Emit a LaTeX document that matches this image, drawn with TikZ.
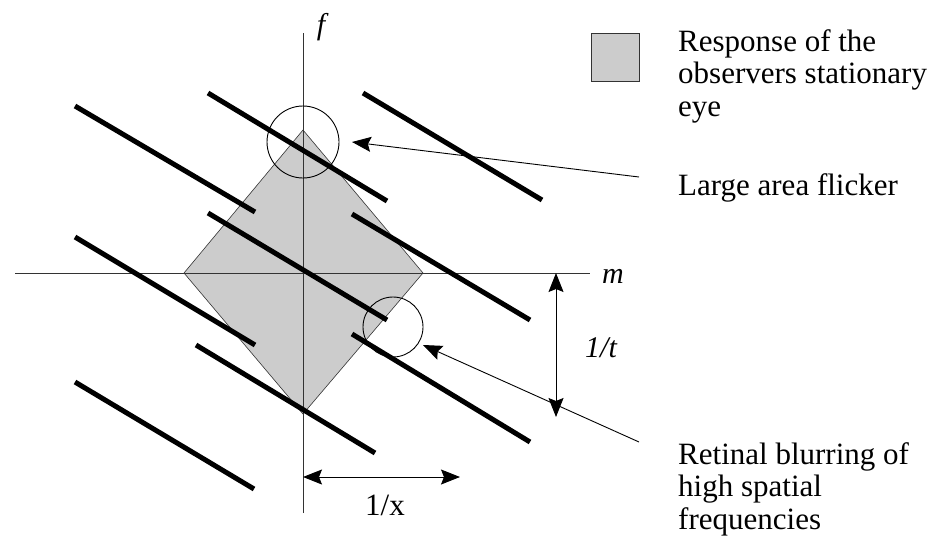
\documentclass[tikz,border=0pt]{standalone}
\usepackage{fontspec}
\setmainfont{Liberation Serif}
\usetikzlibrary{arrows.meta}
\definecolor{resp}{HTML}{CCCCCC}
\definecolor{axisgray}{HTML}{333333}
\begin{document}
\begin{tikzpicture}[x=1pt,y=-1pt,
  thickline/.style={line width=5pt},
  axisline/.style={line width=1pt, draw=axisgray},
  thinline/.style={line width=0.9pt},
  tip/.tip={Stealth[length=19pt,width=15pt,inset=3pt]},
  arr/.style={thinline, -tip},
  darr/.style={thinline, tip-tip},
  lbl/.style={font=\fontsize{31}{32.3}\selectfont, inner sep=0pt},
  ilbl/.style={lbl, font=\fontsize{30}{32.3}\selectfont\itshape, anchor=base},
  txt/.style={lbl, align=left, anchor=base west},
  ring/.style={circle, draw, thinline, inner sep=0pt}
]
\useasboundingbox (0,0) rectangle (943,549);

% response region
\filldraw[fill=resp, draw=axisgray, line width=0.6pt]
  (303,130) -- (423,273) -- (303,414) -- (184,273) -- cycle;

% axes
\coordinate (ftop) at (303,33);
\coordinate (fbot) at (303,513);
\coordinate (mleft) at (15,273);
\coordinate (mright) at (590,273);
\draw[axisline] (fbot) -- (ftop);
\draw[axisline] (mleft) -- (mright);

% thick spectral lines
\draw[thickline] (75,106) -- (255,212);
\draw[thickline] (208,93) -- (387,201);
\draw[thickline] (363,93) -- (542,200);
\draw[thickline] (75,237) -- (255,345);
\draw[thickline] (208,213) -- (387,320);
\draw[thickline] (352,214) -- (530,320);
\draw[thickline] (196,345) -- (375,453);
\draw[thickline] (352,334) -- (530,442);
\draw[thickline] (75,382) -- (254,489);

% circles
\node[ring, minimum size=72pt] (c1) at (303,142) {};
\node[ring, minimum size=60pt] (c2) at (393,327) {};

% legend
\node[draw=axisgray, line width=0.8pt, fill=resp, minimum size=48pt, inner sep=0pt] (legbox) at (615,57) {};
\node[txt] (resptxt) at (678,116) {Response of the\\observers stationary\\eye};
\node[txt] (laftxt) at (678,195) {Large area flicker};
\node[txt] (rettxt) at (678,529) {Retinal blurring of\\high spatial\\frequencies};

% pointer arrows
\coordinate (lafstart) at (639,177);
\coordinate (laftip) at (352,142);
\draw[arr] (lafstart) -- (laftip);
\coordinate (retstart) at (639,442);
\coordinate (rettip) at (423,345);
\draw[arr] (retstart) -- (rettip);

% dimension arrows
\coordinate (ttop) at (556,273);
\coordinate (tbot) at (556,417);
\draw[darr] (ttop) -- (tbot);
\coordinate (xl) at (303,477);
\coordinate (xr) at (460,477);
\draw[darr] (xl) -- (xr);

% labels
\node[ilbl] (flbl) at (321,34) {f};
\node[ilbl] (mlbl) at (613,283) {m};
\node[ilbl] (tlbl) at (601,357) {1/t};
\node[lbl, anchor=base] (xlbl) at (385,515) {1/x};
\end{tikzpicture}
\end{document}
